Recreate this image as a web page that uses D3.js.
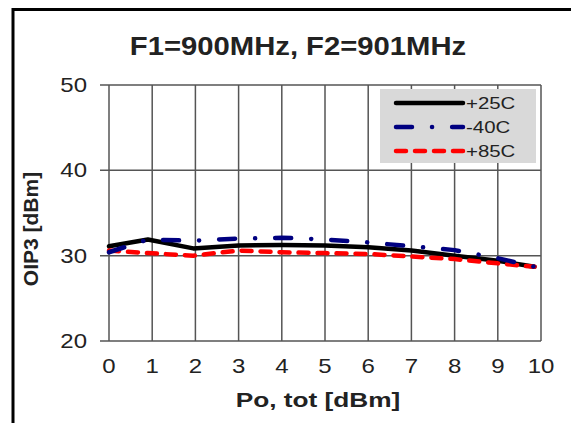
<!DOCTYPE html>
<html>
<head>
<meta charset="utf-8">
<script src="https://cdn.jsdelivr.net/npm/d3@7"></script>
<style>
  body { margin: 0; background: #fff; }
  text { font-family: "Liberation Sans", Arial, sans-serif; fill: #222; }
</style>
</head>
<body>
<svg id="chart"></svg>
<script>
// values
const po = [0, 0.9, 1.95, 3, 4, 5, 6, 7, 8, 9, 9.85];
const oip3_25 = [31.1, 31.9, 30.85, 31.2, 31.25, 31.2, 31.0, 30.6, 30.0, 29.4, 28.7];
const oip3_m40 = [30.4, 31.9, 31.75, 32.0, 32.1, 31.9, 31.55, 31.1, 30.65, 29.7, 28.7];
const oip3_85 = [30.6, 30.3, 30.0, 30.6, 30.4, 30.3, 30.2, 29.9, 29.6, 29.1, 28.7];
const xTicks = [0, 1, 2, 3, 4, 5, 6, 7, 8, 9, 10];
const yTicks = [20, 30, 40, 50];
const seriesNames = ['+25C', '-40C', '+85C'];

const config = {
  width: 571, height: 423,
  margin: { top: 85, right: 30, bottom: 82, left: 109 },
  stretch: 1.2
};

const svg = d3.select('#chart')
    .attr('width', config.width)
    .attr('height', config.height);

const innerW = config.width - config.margin.left - config.margin.right;
const innerH = config.height - config.margin.top - config.margin.bottom;

// outer frame (only top and left edges are visible)
svg.append('path')
    .attr('d', `M13,${config.height} V9.5 H${config.width}`)
    .attr('fill', 'none')
    .attr('stroke', '#000')
    .attr('stroke-width', 3);

// text is a bit wider than normal in the reference
function label(parent, x, y, str, size, weight, anchor, sx) {
  parent.append('text')
      .attr('transform', `translate(${x},${y}) scale(${sx},1)`)
      .attr('text-anchor', anchor)
      .attr('font-size', size)
      .attr('font-weight', weight)
      .text(str);
}

const x = d3.scaleLinear().domain([0, 10]).range([0, innerW]);
const y = d3.scaleLinear().domain([20, 50]).range([innerH, 0]);

const chart = svg.append('g')
    .attr('transform', `translate(${config.margin.left},${config.margin.top})`);

// grid
chart.append('g')
    .selectAll('line')
    .data(xTicks)
  .join('line')
    .attr('x1', d => x(d)).attr('x2', d => x(d))
    .attr('y1', 0).attr('y2', innerH)
    .attr('stroke', '#555')
    .attr('stroke-width', 1.5);

chart.append('g')
    .selectAll('line')
    .data(yTicks)
  .join('line')
    .attr('x1', -9).attr('x2', innerW)
    .attr('y1', d => y(d)).attr('y2', d => y(d))
    .attr('stroke', '#555')
    .attr('stroke-width', 1.5);

// tick labels
xTicks.forEach(t => label(chart, x(t), innerH + 32, t, 20, 'normal', 'middle', config.stretch));
yTicks.forEach(t => label(chart, -22, y(t) + 7, t, 20, 'normal', 'end', config.stretch));

// titles
label(svg, 298, 55, 'F1=900MHz, F2=901MHz', 25, 'bold', 'middle', 1.17);
label(svg, 318, 407, 'Po, tot [dBm]', 21, 'bold', 'middle', 1.25);
svg.append('text')
    .attr('transform', 'translate(38,229) rotate(-90)')
    .attr('text-anchor', 'middle')
    .attr('font-size', 21)
    .attr('font-weight', 'bold')
    .text('OIP3 [dBm]');

const styles = [
  { color: '#000', dash: null, width: 4.5 },
  { color: '#000080', dash: '16 20 0.1 20', width: 4.5 },
  { color: '#ff0000', dash: '10 9', width: 4.5 }
];
const seriesValues = [oip3_25, oip3_m40, oip3_85];

const line = d3.line()
    .x(d => x(d[0]))
    .y(d => y(d[1]));

[0, 2, 1].forEach(i => {
  const s = styles[i];
  chart.append('path')
      .datum(po.map((p, j) => [p, seriesValues[i][j]]))
      .attr('d', line)
      .attr('fill', 'none')
      .attr('stroke', s.color)
      .attr('stroke-width', s.width)
      .attr('stroke-linecap', 'round')
      .attr('stroke-linejoin', 'round')
      .attr('stroke-dasharray', s.dash);
});

// legend
const legend = svg.append('g').attr('transform', 'translate(380,89)');
legend.append('rect')
    .attr('width', 156)
    .attr('height', 74)
    .attr('fill', '#d9d9d9');

seriesNames.forEach((name, i) => {
  const ly = 14 + i * 24;
  legend.append('line')
      .attr('x1', 16).attr('x2', 83)
      .attr('y1', ly).attr('y2', ly)
      .attr('stroke', styles[i].color)
      .attr('stroke-width', 4.5)
      .attr('stroke-linecap', 'round')
      .attr('stroke-dasharray', styles[i].dash);
  label(legend, 86, ly + 6, name, 17, 'normal', 'start', 1.2);
});
</script>
</body>
</html>
